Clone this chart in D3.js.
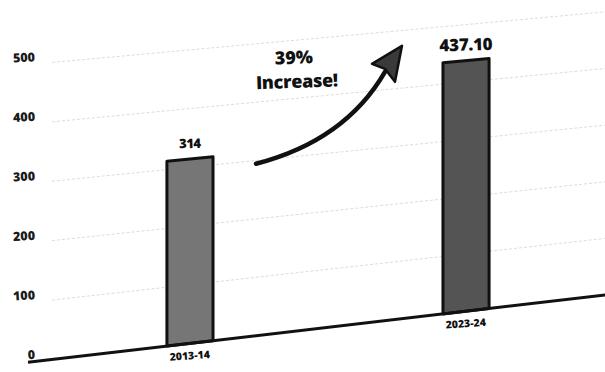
<!DOCTYPE html>
<html>
<head>
<meta charset="utf-8">
<script src="https://cdn.jsdelivr.net/npm/d3@7"></script>
<style>
  html, body { margin: 0; padding: 0; background: #fff; }
  svg { display: block; font-family: 'Open Sans', sans-serif; }
</style>
</head>
<body>
<svg width="605" height="372"></svg>
<script>
// data
const years = ['2013-14', '2023-24'];
const values = [314, 437.1];
const valueLabels = ['314', '437.10'];
const yTicks = [0, 100, 200, 300, 400, 500];

const barFill = ['#767676', '#545454'];

const svg = d3.select('svg');

// plot space (flat), then bent into the photo's slant by project()
const x = d3
  .scaleBand()
  .domain(years)
  .range([0, 596])
  .paddingInner(0.833)
  .paddingOuter(0.496);

const y = d3.scaleLinear().domain([0, 500]).range([0, 297.5]);

const origin = [30, 362];
const slant = 0.1165; // baseline rise per px
const shrink = 0.000084; // page recedes to the right

const project = (lx, h) => [
  origin[0] + lx,
  origin[1] - slant * lx - h * (1 - shrink * lx)
];
const angleAt = h => (Math.atan(-slant + (h * shrink)) * 180) / Math.PI;
const line = d3.line();

// faint dashed gridlines
svg
  .append('g')
  .selectAll('path')
  .data(yTicks.filter(d => d > 0))
  .enter()
  .append('path')
  .attr('d', d => line([project(22, y(d)), project(580, y(d))]))
  .attr('fill', 'none')
  .attr('stroke', '#c4c4c4')
  .attr('stroke-dasharray', '3,2')
  .attr('stroke-opacity', 0.6);

// y labels
svg
  .append('g')
  .selectAll('text')
  .data(yTicks)
  .enter()
  .append('text')
  .attr('transform', d => {
    const [px, py] = project(5, y(d));
    return `translate(${px},${py - 7}) rotate(${angleAt(y(d)) * 0.5})`;
  })
  .attr('dy', '0.35em')
  .attr('text-anchor', 'end')
  .attr('font-size', 12.5)
  .attr('font-weight', 800)
  .attr('fill', '#1a1a1a')
  .text(d => d);

// bars
svg
  .append('g')
  .selectAll('path')
  .data(values)
  .enter()
  .append('path')
  .attr('d', (d, i) => {
    const l = x(years[i]);
    const r = l + x.bandwidth();
    return line([project(l, 0), project(l, y(d)), project(r, y(d)), project(r, 0)]) + 'Z';
  })
  .attr('fill', (d, i) => barFill[i])
  .attr('stroke', '#111')
  .attr('stroke-width', 3)
  .attr('stroke-linejoin', 'round');

// baseline
svg
  .append('path')
  .attr('d', line([project(-2, 0), project(590, 0)]))
  .attr('stroke', '#111')
  .attr('stroke-width', 3);

// value labels
svg
  .append('g')
  .selectAll('text')
  .data(values)
  .enter()
  .append('text')
  .attr('transform', (d, i) => {
    const [px, py] = project(x(years[i]) + x.bandwidth() / 2, y(d));
    return `translate(${px},${py - (i === 0 ? 11 : 10)}) rotate(${angleAt(y(d)) * 0.3})`;
  })
  .attr('text-anchor', 'middle')
  .attr('font-size', (d, i) => (i === 0 ? 13 : 17))
  .attr('font-weight', 800)
  .attr('letter-spacing', (d, i) => (i === 0 ? -0.5 : -0.3))
  .attr('fill', '#111')
  .text((d, i) => valueLabels[i]);

// category labels
svg
  .append('g')
  .selectAll('text')
  .data(years)
  .enter()
  .append('text')
  .attr('transform', d => {
    const [px, py] = project(x(d) + x.bandwidth() / 2, 0);
    return `translate(${px},${py + 16}) rotate(${angleAt(0) * 0.6})`;
  })
  .attr('text-anchor', 'middle')
  .attr('font-size', 10.5)
  .attr('font-weight', 800)
  .attr('fill', '#111')
  .text(d => d);

// growth arrow between the bars
const [b1x, b1y] = project(x(years[0]) + x.bandwidth(), y(values[0]));
const [b2x, b2y] = project(x(years[1]), y(values[1]));
const s = [b1x + 43, b1y + 7];
const tip = [b2x - 41, b2y - 17];

svg
  .append('path')
  .attr('d', `M${s[0]},${s[1]} Q${s[0] + 89},${s[1] - 23} ${tip[0] - 17},${tip[1] + 26}`)
  .attr('fill', 'none')
  .attr('stroke', '#111')
  .attr('stroke-width', 4.5)
  .attr('stroke-linecap', 'round');

svg
  .append('path')
  .attr('d', `M${tip[0]},${tip[1]} L${tip[0] - 30},${tip[1] + 18} L${tip[0] - 17},${tip[1] + 23} L${tip[0] - 7},${tip[1] + 36} Z`)
  .attr('fill', '#3a3a3a')
  .attr('stroke', '#111')
  .attr('stroke-width', 2.5)
  .attr('stroke-linejoin', 'round');

const pct = Math.round(((values[1] - values[0]) / values[0]) * 100);

svg
  .append('text')
  .attr('transform', `translate(${b1x + 81},${b2y + 1}) rotate(-2)`)
  .attr('text-anchor', 'middle')
  .attr('font-size', 18)
  .attr('font-weight', 800)
  .attr('fill', '#111')
  .text(`${pct}%`);

svg
  .append('text')
  .attr('transform', `translate(${b1x + 84},${b2y + 25}) rotate(-2)`)
  .attr('text-anchor', 'middle')
  .attr('font-size', 18)
  .attr('font-weight', 800)
  .attr('letter-spacing', -0.3)
  .attr('fill', '#111')
  .text('Increase!');
</script>
</body>
</html>
